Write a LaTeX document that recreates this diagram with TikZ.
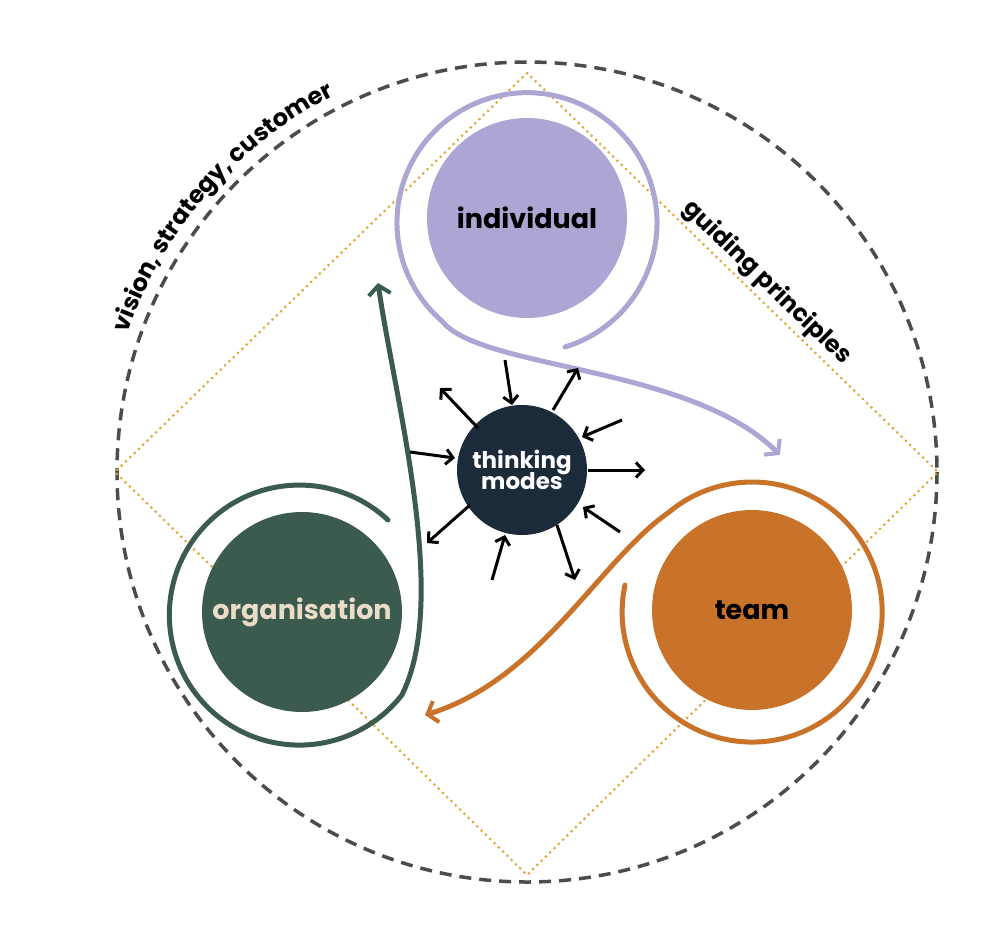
\documentclass[tikz,border=0pt]{standalone}
\usepackage{fontspec}
\setmainfont{Poppins}
\usetikzlibrary{arrows.meta,decorations.text}
\definecolor{lav}{HTML}{ADA5D3}
\definecolor{org}{HTML}{C87329}
\definecolor{grn}{HTML}{3B5B4F}
\definecolor{navy}{HTML}{1B2B3A}
\definecolor{gold}{HTML}{E0A830}
\definecolor{cream}{HTML}{EADCC6}
\tikzset{
 blob/.style={circle,minimum size=200pt,inner sep=0,font=\fontsize{27}{29}\selectfont\bfseries},
 spiral/.style={line width=5pt,line cap=round,-{Straight Barb[length=9pt,width=22pt,line width=4pt]}},
 sa/.style={line width=3pt,-{Straight Barb[length=7pt,width=15pt,line width=3pt]}}
}
\begin{document}
\begin{tikzpicture}[x=1pt,y=-1pt]
\useasboundingbox (0,0) rectangle (982,938);
\draw[line width=3.5pt,dash pattern=on 12pt off 8pt,black!70] (527,472) circle[radius=410];
\draw[gold,line width=3pt,line cap=round,dash pattern=on 0pt off 6pt] (527,73) -- (938,472) -- (527,875) -- (115,472) -- cycle;
\node[blob,fill=lav,text=black] (ind) at (527,218) {individual};
\node[blob,fill=org,text=black] (team) at (752,610) {team};
\node[blob,fill=grn,text=cream] (orgn) at (302,612) {organisation};
\node[circle,fill=navy,minimum size=130pt,inner sep=0,text=white,align=center,
  font=\fontsize{23}{24}\selectfont\bfseries] (tm) at (522,470) {thinking\\[-3pt]modes};
% spirals
\draw[spiral,lav] (565,347) arc[start angle=73,end angle=-229,radius=130]
  .. controls (480,370) and (690,365) .. (780,455);
\draw[spiral,org] (625,585) arc[start angle=192,end angle=-130,radius=130]
  .. controls (600,560) and (540,680) .. (425,715);
\draw[spiral,grn] (388,520) arc[start angle=-47,end angle=-322,radius=130]
  .. controls (450,600) and (395,400) .. (378,283);
% small arrows
\foreach \a/\b/\c/\d in {478/428/440/388, 553/410/578/368, 588/470/645/470, 557/525/575/580, 470/505/427/543,
  505/360/512/405, 622/420/582/437, 410/452/455/458, 620/532/583/507, 492/580/505/535}
  \draw[sa] (\a,\b) -- (\c,\d);
% labels
\node[rotate=-44,font=\fontsize{24}{26}\selectfont\bfseries] (gp) at (767,283) {guiding principles};
\path[decorate,decoration={text along path,text align=center,
  text={|\fontsize{24}{26}\selectfont\bfseries|vision, strategy, customer}}]
  (527,472) ++(-171:423) arc[start angle=-171,end angle=-107,radius=423];
\end{tikzpicture}
\end{document}
